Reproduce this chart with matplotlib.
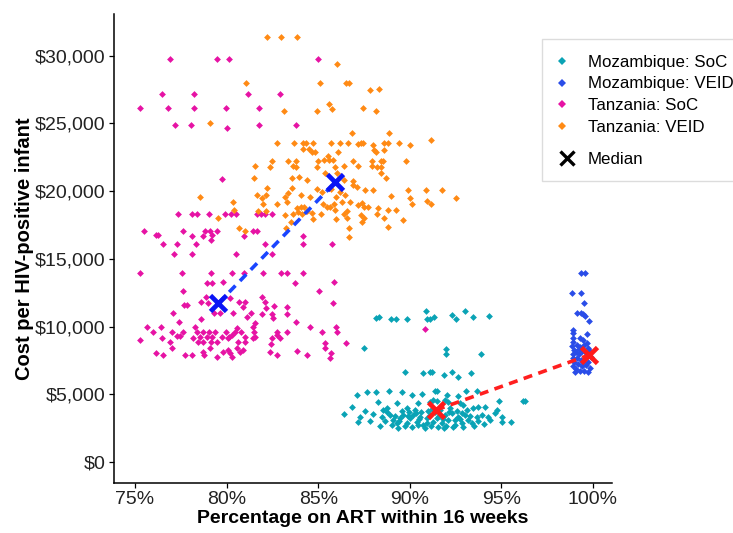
import matplotlib
matplotlib.use("Agg")
import matplotlib.pyplot as plt
from matplotlib.lines import Line2D
from matplotlib.patches import Rectangle
from matplotlib.ticker import FuncFormatter

plt.rcParams["font.family"] = ["Liberation Sans", "DejaVu Sans"]

# ---- data (percentage on ART, cost per HIV+ infant) ----
tz_soc_pct = [
    76.91, 79.49, 80.13, 84.97, 76.49, 78.24, 81.18, 82.91, 75.26, 76.80,
    78.24, 79.97, 81.78, 77.20, 78.07, 80.02, 81.78, 83.77, 79.73, 77.35,
    78.11, 78.40, 79.06, 79.91, 80.26, 80.51, 81.64, 81.86, 82.10, 82.49,
    75.51, 76.15, 76.27, 77.60, 78.11, 78.73, 78.84, 79.09, 79.22, 79.49,
    79.15, 80.95, 81.46, 81.64, 84.15, 84.15, 76.53, 77.28, 78.35, 82.11,
    82.49, 85.74, 77.11, 78.10, 80.51, 75.29, 77.55, 79.13, 80.28, 80.93,
    82.00, 82.98, 83.28, 84.15, 78.95, 79.20, 79.82, 83.75, 85.88, 77.60,
    85.03, 78.88, 81.95, 77.67, 77.85, 78.62, 79.00, 80.19, 80.66, 81.00,
    80.91, 82.10, 82.13, 82.57, 83.30, 85.82, 77.09, 79.31, 79.64, 80.33,
    81.35, 81.92, 82.49, 82.55, 83.30, 78.60, 81.10, 77.39, 81.53, 83.77,
    75.64, 76.00, 76.40, 77.00, 77.31, 77.46, 77.62, 78.28, 78.37, 78.55,
    78.70, 78.95, 79.06, 79.19, 79.38, 79.73, 79.95, 80.15, 80.28, 80.46,
    80.58, 80.77, 80.99, 81.46, 81.50, 81.55, 82.73, 83.31, 84.55, 85.21,
    85.97, 86.03, 75.27, 76.46, 76.91, 78.15, 78.42, 78.73, 79.15, 79.49,
    80.09, 80.62, 81.00, 81.42, 82.49, 82.41, 82.76, 82.91, 86.52, 85.35,
    76.15, 76.54, 77.00, 77.75, 78.11, 78.73, 78.78, 79.09, 79.46, 79.79,
    80.09, 80.19, 80.28, 80.58, 80.73, 80.91, 82.37, 82.76, 83.86, 84.37,
    85.37, 85.64, 90.85, 85.70,
]
tz_soc_cost = [
    29760, 29760, 29760, 29760, 27150, 27150, 27150, 27150, 26160, 26160,
    26160, 26160, 26160, 24910, 24910, 24680, 24910, 24910, 20870, 18310,
    18310, 18310, 18310, 18310, 18310, 18310, 18310, 18310, 18310, 18310,
    17080, 16760, 16760, 17080, 16690, 16690, 17080, 17080, 16760, 17080,
    16390, 16690, 17080, 17080, 16710, 16070, 16070, 16070, 16070, 16070,
    15340, 16070, 15340, 15340, 15340, 13980, 13980, 13980, 13980, 13980,
    13980, 13980, 13980, 13980, 13200, 13200, 13270, 13200, 13270, 12630,
    12630, 12210, 12210, 11590, 11590, 11790, 11720, 12130, 11790, 11790,
    11470, 11790, 11390, 11540, 11470, 11760, 10980, 10980, 10980, 10980,
    10980, 10910, 10930, 10610, 10910, 10580, 10730, 10340, 10240, 10360,
    9950, 9620, 9950, 9620, 9330, 9330, 9620, 9950, 9620, 9250,
    9620, 9250, 9620, 9250, 9620, 9250, 9620, 9250, 9380, 9620,
    9870, 9620, 9250, 9990, 9620, 9250, 9620, 9620, 9950, 9620,
    9950, 9620, 9010, 9130, 8880, 9130, 8880, 8880, 8880, 8880,
    9130, 8880, 8880, 9130, 9130, 8690, 9380, 9130, 8760, 8760,
    8070, 7900, 8400, 7900, 7900, 8150, 7900, 8400, 7780, 8150,
    8270, 8030, 7780, 8400, 8150, 8270, 8150, 7900, 8200, 7900,
    8400, 7700, 9800, 8070,
]

tz_veid_pct = [
    82.19, 82.95, 83.86, 86.01, 81.08, 85.08, 86.53, 86.68, 87.84, 88.30,
    85.59, 85.74, 87.45, 88.17, 83.13, 84.93, 79.08, 86.83, 88.86, 78.55,
    80.40, 79.55, 81.95, 83.23, 83.19,
    82.73, 83.68, 84.19, 84.33, 84.73, 85.70, 86.19, 86.61, 87.16, 87.34,
    87.46, 87.97, 88.59, 88.83, 89.43, 90.03, 91.14,
    84.15, 84.51, 84.65, 84.83, 86.10, 88.05, 88.14, 88.61, 85.55,
    82.48, 83.33, 83.79, 84.97, 85.33, 85.57, 85.79, 86.92, 87.16, 87.92,
    88.41, 88.55, 89.79, 81.57, 82.37, 83.61, 83.79, 84.95, 85.93, 86.42,
    87.95, 88.19, 88.41,
    85.37, 86.01, 88.41, 88.72, 81.50, 83.55, 83.97, 84.40, 86.39, 86.92,
    82.19, 83.55, 84.93, 85.19, 85.71, 86.17, 86.88, 87.10, 87.55, 87.97,
    89.89, 90.90, 91.76, 81.68, 82.15, 83.19, 83.33, 84.06, 84.57, 85.97,
    86.48, 88.97, 90.01, 90.92, 92.51,
    80.37, 82.00, 82.73, 83.28, 83.83, 84.06, 84.21, 85.28, 85.46, 85.64,
    85.86, 86.32, 86.73, 87.19, 87.39, 87.52, 87.73, 88.28, 88.83, 89.23,
    90.10, 91.16,
    81.73, 82.13, 83.64, 83.91, 84.10, 84.40, 84.65, 85.14, 85.92, 86.41,
    86.59, 87.34, 87.48, 88.21, 88.61, 89.65, 80.68, 83.51, 84.70, 85.97,
    86.59, 87.37, 88.79, 86.70, 86.70, 81.00,
]
tz_veid_cost = [
    31400, 31400, 31400, 29390, 27990, 27990, 27990, 27990, 27450, 27560,
    26460, 26040, 26140, 25940, 25920, 25920, 25010, 24270, 24270, 19590,
    18610, 17990, 19470, 17280, 18240,
    23580, 23580, 23580, 23580, 23580, 23580, 23580, 23580, 23480, 23580,
    23580, 23430, 23580, 23580, 23580, 23410, 23780,
    23110, 23110, 22910, 22870, 22870, 23040, 22910, 23040, 22600,
    22230, 22230, 22230, 22230, 22300, 22300, 22300, 22230, 21860, 22230,
    22230, 22230, 22230, 21880, 21810, 21880, 21810, 21810, 21810, 21880,
    21880, 21810, 21810,
    21360, 21360, 21360, 20990, 20990, 20990, 21070, 20820, 20820, 20750,
    20250, 20250, 20160, 19960, 20160, 19960, 20450, 20330, 20080, 20080,
    20080, 20080, 20080, 19720, 19720, 19590, 19840, 19720, 19590, 19590,
    19720, 19640, 19520, 19270, 19470,
    19220, 19050, 19050, 19220, 18780, 18850, 18850, 19050, 18850, 18850,
    19050, 19220, 19180, 18980, 19100, 18850, 18850, 18780, 18610, 18610,
    19030, 19050,
    18530, 18530, 18290, 18480, 18290, 18530, 18360, 18290, 18610, 18290,
    18530, 18240, 17990, 18290, 18040, 17870, 17300, 17740, 17940, 17940,
    18040, 17740, 17370, 17300, 16590, 17060,
]

moz_soc_pct = [
    88.16, 88.30, 88.96, 89.25, 89.85, 90.90, 90.96, 91.10, 91.32, 92.29,
    92.52, 93.03, 93.43, 94.34,
    87.52, 91.99, 91.98, 93.87,
    89.74, 90.74, 91.10, 91.23, 91.87, 92.29, 92.63, 93.36,
    87.10, 87.65, 88.14, 88.88, 89.56, 90.10, 90.65, 91.37, 91.50, 92.05,
    92.65, 93.05, 93.67, 94.89, 96.16, 96.30,
    86.83, 88.28, 88.74, 88.55, 89.29, 89.83, 90.46, 91.10, 91.28, 91.47,
    91.92, 92.10, 92.74, 92.92, 93.47, 93.74, 94.10, 94.74,
    86.42, 87.28, 87.19, 87.97, 88.47, 88.92, 89.10, 89.29, 89.47, 89.65,
    89.83, 90.01, 90.19, 90.38, 90.56, 90.74, 90.92, 91.10, 91.28, 91.47,
    91.74, 91.92, 92.10, 92.29, 92.47, 92.65, 92.83, 93.01, 93.19, 93.38,
    93.65, 93.93, 94.28, 94.65, 95.05, 95.01, 95.52,
    88.76, 89.03, 89.36, 89.57, 89.74, 89.96, 90.12, 90.28, 90.45, 90.61,
    90.83, 90.99, 91.16, 91.37, 91.54, 91.65, 91.81, 91.98, 92.19, 92.36,
    92.58, 92.74, 92.90, 93.12, 93.29, 93.50, 93.72, 94.05, 94.38, 89.41,
    89.90, 90.50, 90.94, 91.59, 92.14, 92.85, 88.65, 88.37, 87.83, 87.55,
    89.19, 91.87, 91.21, 90.34, 92.47,
]
moz_soc_cost = [
    10610, 10680, 10560, 10560, 10560, 11150, 10560, 10560, 10730, 10850,
    10560, 11150, 10680, 10800,
    8400, 8320, 7950, 7980,
    6620, 6550, 6620, 6620, 6450, 6620, 6250, 6550,
    4950, 5150, 5150, 5240, 5150, 4950, 5020, 5240, 5240, 4950,
    4870, 5240, 5270, 4500, 4500, 4500,
    4080, 4450, 3960, 3840, 4330, 3960, 4330, 4450, 4580, 4500,
    4580, 4450, 4330, 4210, 3960, 4080, 4080, 3840,
    3540, 3300, 2980, 3540, 3300, 3470, 3100, 2860, 3230, 3470,
    2860, 3230, 3470, 2980, 3340, 2730, 3230, 3470, 2980, 3230,
    2860, 3470, 3100, 3600, 3100, 3340, 2860, 3470, 3100, 2860,
    3340, 3470, 3340, 3600, 3340, 2980, 2980,
    3690, 2730, 2510, 3770, 2660, 3690, 2580, 3840, 2730, 3690,
    2510, 3770, 2660, 3690, 2580, 3840, 3170, 2660, 3990, 2580,
    3770, 3170, 2580, 3840, 3400, 2660, 3030, 2810, 3100, 3030,
    3400, 3170, 2900, 3400, 3690, 3600, 3030, 2660, 3030, 3770,
    3400, 2510, 3910, 3620, 2730,
]

moz_veid_pct = [
    99.33, 99.56, 98.85, 99.33, 99.52, 99.11, 99.33, 99.47, 99.56, 99.80,
    98.93, 98.93, 99.29, 99.47, 99.69,
    98.89, 98.91, 98.88, 98.94, 98.89, 98.91, 98.96, 98.91,
    99.13, 99.29, 99.51, 99.73, 99.07, 99.24, 99.40, 99.62, 99.84, 99.13,
    99.35, 99.56, 99.73, 99.18, 99.40, 99.62, 99.84, 99.07, 99.29, 99.51,
    99.73, 99.02, 99.45, 99.24, 99.67, 99.89,
]
moz_veid_cost = [
    13930, 13930, 12460, 12460, 11720, 10980, 10980, 10930, 10780, 10410,
    9750, 9500, 9130, 9010, 9450,
    9160, 8860, 8570, 8270, 7980, 7680, 7380, 7090,
    8640, 8490, 8640, 8420, 8120, 7980, 8200, 8050, 8200, 7680,
    7530, 7680, 7380, 7240, 7090, 7160, 6940, 6870, 6720, 6720,
    6650, 6650, 7380, 8340, 8790, 7760,
]

# medians, one per country: (SoC, VEID)
tz_median_pct = [79.55, 85.93]
tz_median_cost = [11720, 20650]
moz_median_pct = [91.43, 99.80]
moz_median_cost = [3840, 7900]

series_labels = ["Mozambique: SoC", "Mozambique: VEID", "Tanzania: SoC", "Tanzania: VEID"]
series_colours = ["#0aa3b5", "#2a4de8", "#e613a4", "#ff8a14"]

fig = plt.figure(figsize=(7.33, 5.33), dpi=100)
ax = fig.add_axes([0.1555, 0.0938, 0.6794, 0.880])

series = [
    (moz_soc_pct, moz_soc_cost),
    (moz_veid_pct, moz_veid_cost),
    (tz_soc_pct, tz_soc_cost),
    (tz_veid_pct, tz_veid_cost),
]
for (xs, ys), col in zip(series, series_colours):
    ax.scatter(xs, ys, s=12, marker="D", color=col, linewidths=0, zorder=2)

# dashed links between SoC and VEID medians
ax.plot(tz_median_pct, tz_median_cost, color="#1a45ff", lw=2.6,
        dashes=(2.5, 1.8), zorder=3)
ax.plot(moz_median_pct, moz_median_cost, color="#ff1f1f", lw=2.6,
        dashes=(2.5, 1.8), zorder=3)
ax.plot(tz_median_pct, tz_median_cost, ls="none", marker="x", ms=11,
        mew=3.4, color="#0a14f5", zorder=4)
ax.plot(moz_median_pct, moz_median_cost, ls="none", marker="x", ms=11,
        mew=3.4, color="#ff1a1a", zorder=4)

ax.set_xlim(73.85, 101.04)
ax.set_ylim(-1551, 33080)
ax.set_xticks([75, 80, 85, 90, 95, 100])
ax.set_yticks(range(0, 30001, 5000))
ax.xaxis.set_major_formatter(FuncFormatter(lambda v, p: f"{v:.0f}%"))
ax.yaxis.set_major_formatter(FuncFormatter(lambda v, p: f"${v:,.0f}"))
for side in ("top", "right"):
    ax.spines[side].set_visible(False)
for side in ("left", "bottom"):
    ax.spines[side].set_linewidth(1.1)
ax.tick_params(axis="both", length=3.5, width=0.9, colors="black",
               labelsize=14, labelcolor="#222222", pad=2.5)
ax.set_xlabel("Percentage on ART within 16 weeks", fontsize=14,
              fontweight="bold", labelpad=1)
ax.set_ylabel("Cost per HIV-positive infant", fontsize=14.5,
              fontweight="bold", labelpad=1)

# legend: frame, then the colour key and the median key
W, H = 733.0, 533.0
fig.add_artist(Rectangle((542 / W, 1 - 181 / H), 220 / W, 142 / H,
                         transform=fig.transFigure, facecolor="white",
                         edgecolor="#dcdcdc", lw=1.0, zorder=1))
handles = [Line2D([], [], ls="none", marker="D", ms=4.0, mew=0, color=c)
           for c in series_colours]
fig.legend(handles, series_labels, loc="upper left",
           bbox_to_anchor=(553.5 / W, 1 - 54.5 / H), frameon=False,
           fontsize=12.2, handlelength=1.0, handletextpad=1.03,
           labelspacing=0.41, borderpad=0, borderaxespad=0)
fig.legend([Line2D([], [], ls="none", marker="x", ms=10, mew=2.4,
                   color="black")], ["Median"], loc="upper left",
           bbox_to_anchor=(558.5 / W, 1 - 151.5 / H), frameon=False,
           fontsize=12.2, handlelength=1.0, handletextpad=0.74,
           borderpad=0, borderaxespad=0)

fig.savefig("out.png", dpi=100)
